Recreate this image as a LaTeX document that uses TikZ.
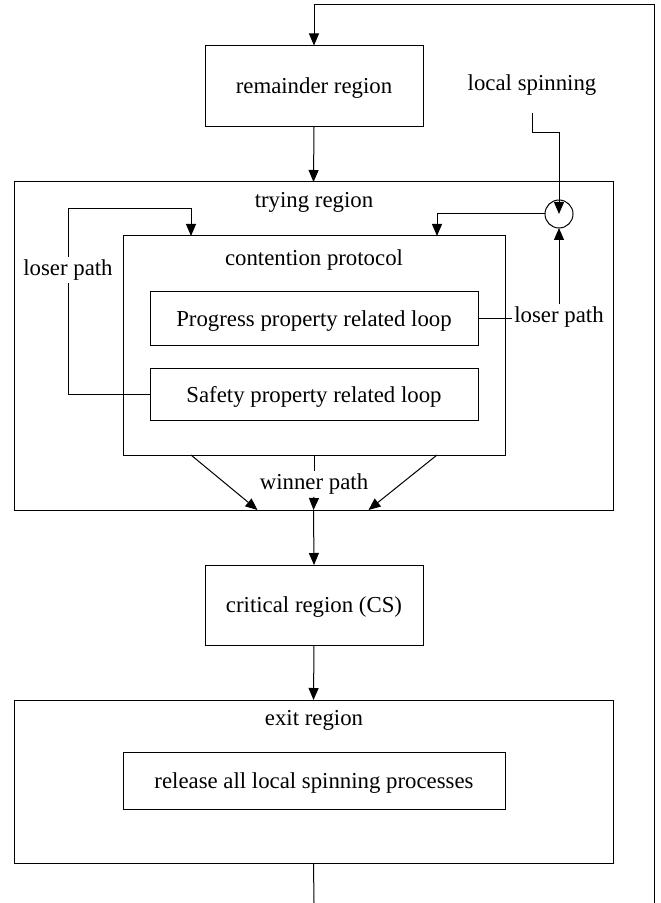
\documentclass[tikz,border=0pt]{standalone}
\usepackage{fontspec}
\setmainfont{Liberation Serif}
\usetikzlibrary{arrows.meta,calc}
\begin{document}
\begin{tikzpicture}[x=0.5pt,y=-0.5pt,
  font=\fontsize{11.4}{13}\selectfont,
  every path/.style={line width=0.5pt},
  box/.style={draw,inner sep=0pt,outer sep=0pt,text depth=0pt},
  lbl/.style={inner sep=1pt},
  arr/.style={-{Triangle[length=6pt,width=5pt]}}]
\useasboundingbox (0,0) rectangle (660,903);
% boxes
\node[box,minimum width=109pt,minimum height=40.5pt] (rem) at (314,86) {remainder region};
\node[box,minimum width=299.5pt,minimum height=164pt] (try) at (313.5,346) {};
\node[box,minimum width=191pt,minimum height=109.5pt] (cont) at (314,345.5) {};
\node[box,minimum width=164pt,minimum height=26.5pt] (prog) at (314,318.5) {Progress property related loop};
\node[box,minimum width=164pt,minimum height=26pt] (safe) at (314,394) {Safety property related loop};
\node[box,minimum width=109pt,minimum height=40pt] (crit) at (314,605) {critical region (CS)};
\node[box,minimum width=299.5pt,minimum height=81.5pt] (exit) at (313.5,781.5) {};
\node[box,minimum width=191pt,minimum height=28.5pt] (rel) at (314,780.5) {release all local spinning processes};
% labels
\node[lbl] (tryl) at (314,202) {trying region};
\node[lbl] (contl) at (314,260) {contention protocol};
\node[lbl] (exitl) at (314,720) {exit region};
\node[lbl] (ls) at (532,85) {local spinning};
\node[lbl] (lpR) at (559,317) {loser path};
\node[lbl] (lpL) at (68,270) {loser path};
\node[lbl] (wp) at (314,484) {winner path};
\node[draw,circle,minimum size=14pt,inner sep=0pt,outer sep=0pt] (circ) at (559,214) {};
% coordinates
\coordinate (rb) at (654,903);
\coordinate (rt) at (654,5);
\coordinate (eb) at (314,903);
\coordinate (ls1) at (532,113);
% connectors
\draw[arr] (rb) -- (rt) -| (rem.north);
\draw[arr] (rem.south) -- (try.north);
\draw[arr] (ls1) -- ++(0,20) -| (circ.center);
\draw (prog.east) -- (prog.east -| lpR.west);
\draw[arr] (lpR.north) -- (circ.south);
\draw[arr] (circ.west) -| ($(cont.north)+(123,0)$);
\draw (safe.west) -| (lpL.south);
\draw[arr] (lpL.north) |- ($(cont.north)+(-123,-27)$) -- ($(cont.north)+(-123,0)$);
\draw (cont.south) -- (wp.north);
\draw[arr] (wp.south) -- (try.south);
\draw[arr] ($(cont.south)+(-123,0)$) -- ($(try.south)+(-56,0)$);
\draw[arr] ($(cont.south)+(123,0)$) -- ($(try.south)+(55,0)$);
\draw[arr] (try.south) -- (crit.north);
\draw[arr] (crit.south) -- (exit.north);
\draw (exit.south) -- (eb);
\end{tikzpicture}
\end{document}
